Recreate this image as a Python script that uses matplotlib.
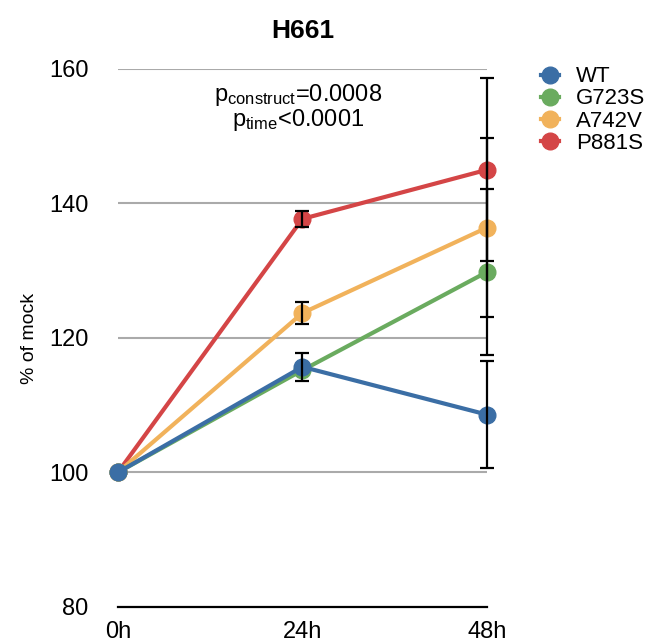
import matplotlib
matplotlib.use("Agg")
import matplotlib.pyplot as plt
from matplotlib.lines import Line2D

plt.rcParams['font.family'] = ['Liberation Sans', 'DejaVu Sans']
plt.rcParams['mathtext.fontset'] = 'custom'
plt.rcParams['mathtext.rm'] = 'Liberation Sans'
plt.rcParams['mathtext.it'] = 'Liberation Sans'

times = [0, 24, 48]
time_labels = ['0h', '24h', '48h']
constructs = ['WT', 'G723S', 'A742V', 'P881S']
colors = ['#3b6ea5', '#6aab5f', '#f1b25b', '#d44546']

wt = [100, 115.7, 108.6]
g723s = [100, 115.2, 129.8]
a742v = [100, 123.7, 136.4]
p881s = [100, 137.7, 145.0]

wt_err = [0, 2.1, 7.9]
g723s_err = [0, 0, 12.3]
a742v_err = [0, 1.6, 13.3]
p881s_err = [0, 1.2, 13.6]

values = [wt, g723s, a742v, p881s]
errors = [wt_err, g723s_err, a742v_err, p881s_err]

fig = plt.figure(figsize=(6.51, 6.44), dpi=100)
ax = fig.add_axes([0.181, 0.0575, 0.567, 0.8355])

for i in [3, 2, 1, 0]:
    ax.plot(times, values[i], color=colors[i], lw=3, marker='o', ms=12,
            clip_on=False, zorder=3 + (3 - i))
for i in [3, 2, 1, 0]:
    xs = [t for t, e in zip(times, errors[i]) if e > 0]
    ys = [v for v, e in zip(values[i], errors[i]) if e > 0]
    es = [e for e in errors[i] if e > 0]
    ax.errorbar(xs, ys, yerr=es, fmt='none', ecolor='black', elinewidth=1.6,
                capsize=5, capthick=1.6, zorder=10, clip_on=False)

ax.set_xlim(0, 48)
ax.set_ylim(80, 160)
ax.set_yticks([80, 100, 120, 140, 160])
ax.set_xticks(times)
ax.set_xticklabels(time_labels)
ax.tick_params(axis='both', length=0, labelsize=17)
ax.tick_params(axis='y', pad=21)
ax.tick_params(axis='x', pad=10)
for s in ['left', 'right', 'top']:
    ax.spines[s].set_visible(False)
ax.spines['bottom'].set_color('black')
ax.spines['bottom'].set_linewidth(1.6)
for yv in [100, 120, 140, 160]:
    ax.axhline(yv, color='#aaaaaa', lw=1.5, zorder=1)

ax.set_ylabel('% of mock', fontsize=14, labelpad=8)
ax.set_title('H661', fontsize=19, fontweight='bold', pad=22)

ax.text(23.5, 156.1, r'p$_{\mathrm{construct}}$=0.0008', ha='center', va='center', fontsize=17)
ax.text(23.5, 152.4, r'p$_{\mathrm{time}}$<0.0001', ha='center', va='center', fontsize=17)

handles = [Line2D([0], [0], color=c, lw=3, marker='o', ms=12) for c in colors]
fig.legend(handles, constructs, loc='upper left', bbox_to_anchor=(0.80, 0.928),
           frameon=False, fontsize=16, handlelength=0.8, handletextpad=0.8,
           labelspacing=0.05)

fig.savefig('out.png', dpi=100)
